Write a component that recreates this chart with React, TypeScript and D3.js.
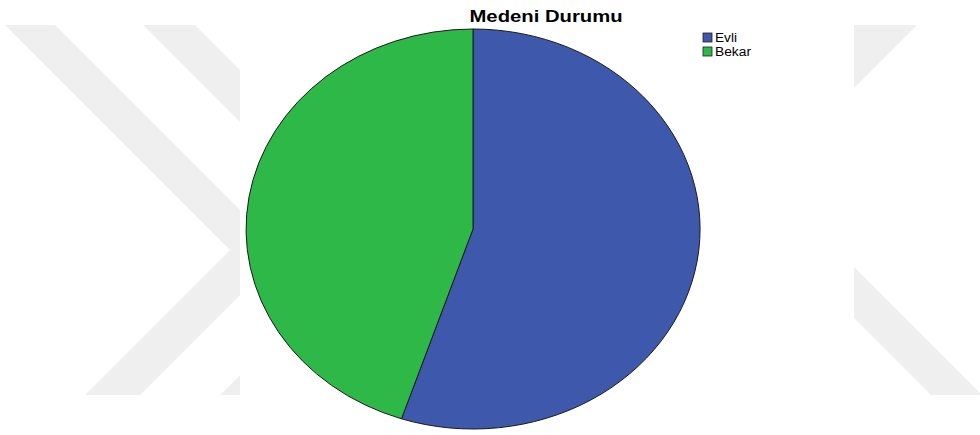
import React from "react";
import * as d3 from "d3";

const categories = ["Evli", "Bekar"];
const values = [55.1, 44.9];
const colors = ["#3E58AC", "#2EB848"];
const legendWidths = [22, 36];
const title = "Medeni Durumu";

const W = 980;
const H = 435;
const cx = 473;
const cy = 229;
const rx = 227;
const ry = 200;

// faint background watermark shapes
const wmLeft: [number, number][][] = [
  [[5, 25], [55, 25], [282.5, 252.5], [140, 395], [85, 395], [230, 250]],
  [[143, 25], [195, 25], [420, 250], [275, 395], [220, 395], [366.5, 248.5]],
];
const wmRight: [number, number][][] = [
  [[840, 25], [917, 25], [800, 142], [723, 142]],
  [[736, 200], [787, 200], [982, 395], [931, 395]],
];

export default function App() {
  const pie = d3.pie<number>().sort(null).value((d) => d)(values);
  const arc = d3.arc<d3.PieArcDatum<number>>().innerRadius(0).outerRadius(1);
  const line = d3.line();
  return (
    <svg
      width={W}
      height={H}
      style={{ position: "absolute", left: 0, top: 0, background: "#fff" }}
      fontFamily="'Liberation Sans', Arial, sans-serif"
    >
      <defs>
        <clipPath id="cl">
          <rect x={0} y={25} width={240} height={371} />
        </clipPath>
        <clipPath id="cr">
          <rect x={854} y={25} width={126} height={371} />
        </clipPath>
      </defs>
      <g clipPath="url(#cl)">
        {wmLeft.map((p, i) => (
          <path key={i} d={line(p) + "Z"} fill="#efefef" />
        ))}
      </g>
      <g clipPath="url(#cr)">
        {wmRight.map((p, i) => (
          <path key={i} d={line(p) + "Z"} fill="#efefef" />
        ))}
      </g>
      <g transform={`translate(${cx},${cy}) scale(${rx},${ry})`}>
        {pie.map((d, i) => (
          <path
            key={i}
            d={arc(d) || ""}
            fill={colors[i]}
            stroke="#1a1a1a"
            strokeWidth={1}
            vectorEffect="non-scaling-stroke"
          />
        ))}
      </g>
      <text
        x={546}
        y={22}
        textAnchor="middle"
        fontWeight="bold"
        fontSize={16}
        textLength={153}
        lengthAdjust="spacingAndGlyphs"
        fill="#000"
      >
        {title}
      </text>
      {categories.map((c, i) => (
        <g key={c} transform={`translate(703,${33 + i * 14})`}>
          <rect x={0} y={0} width={9} height={9} fill={colors[i]} stroke="#222" strokeWidth={0.8} />
          <text
            x={12}
            y={9}
            fontSize={12}
            textLength={legendWidths[i]}
            lengthAdjust="spacingAndGlyphs"
            fill="#000"
          >
            {c}
          </text>
        </g>
      ))}
    </svg>
  );
}
